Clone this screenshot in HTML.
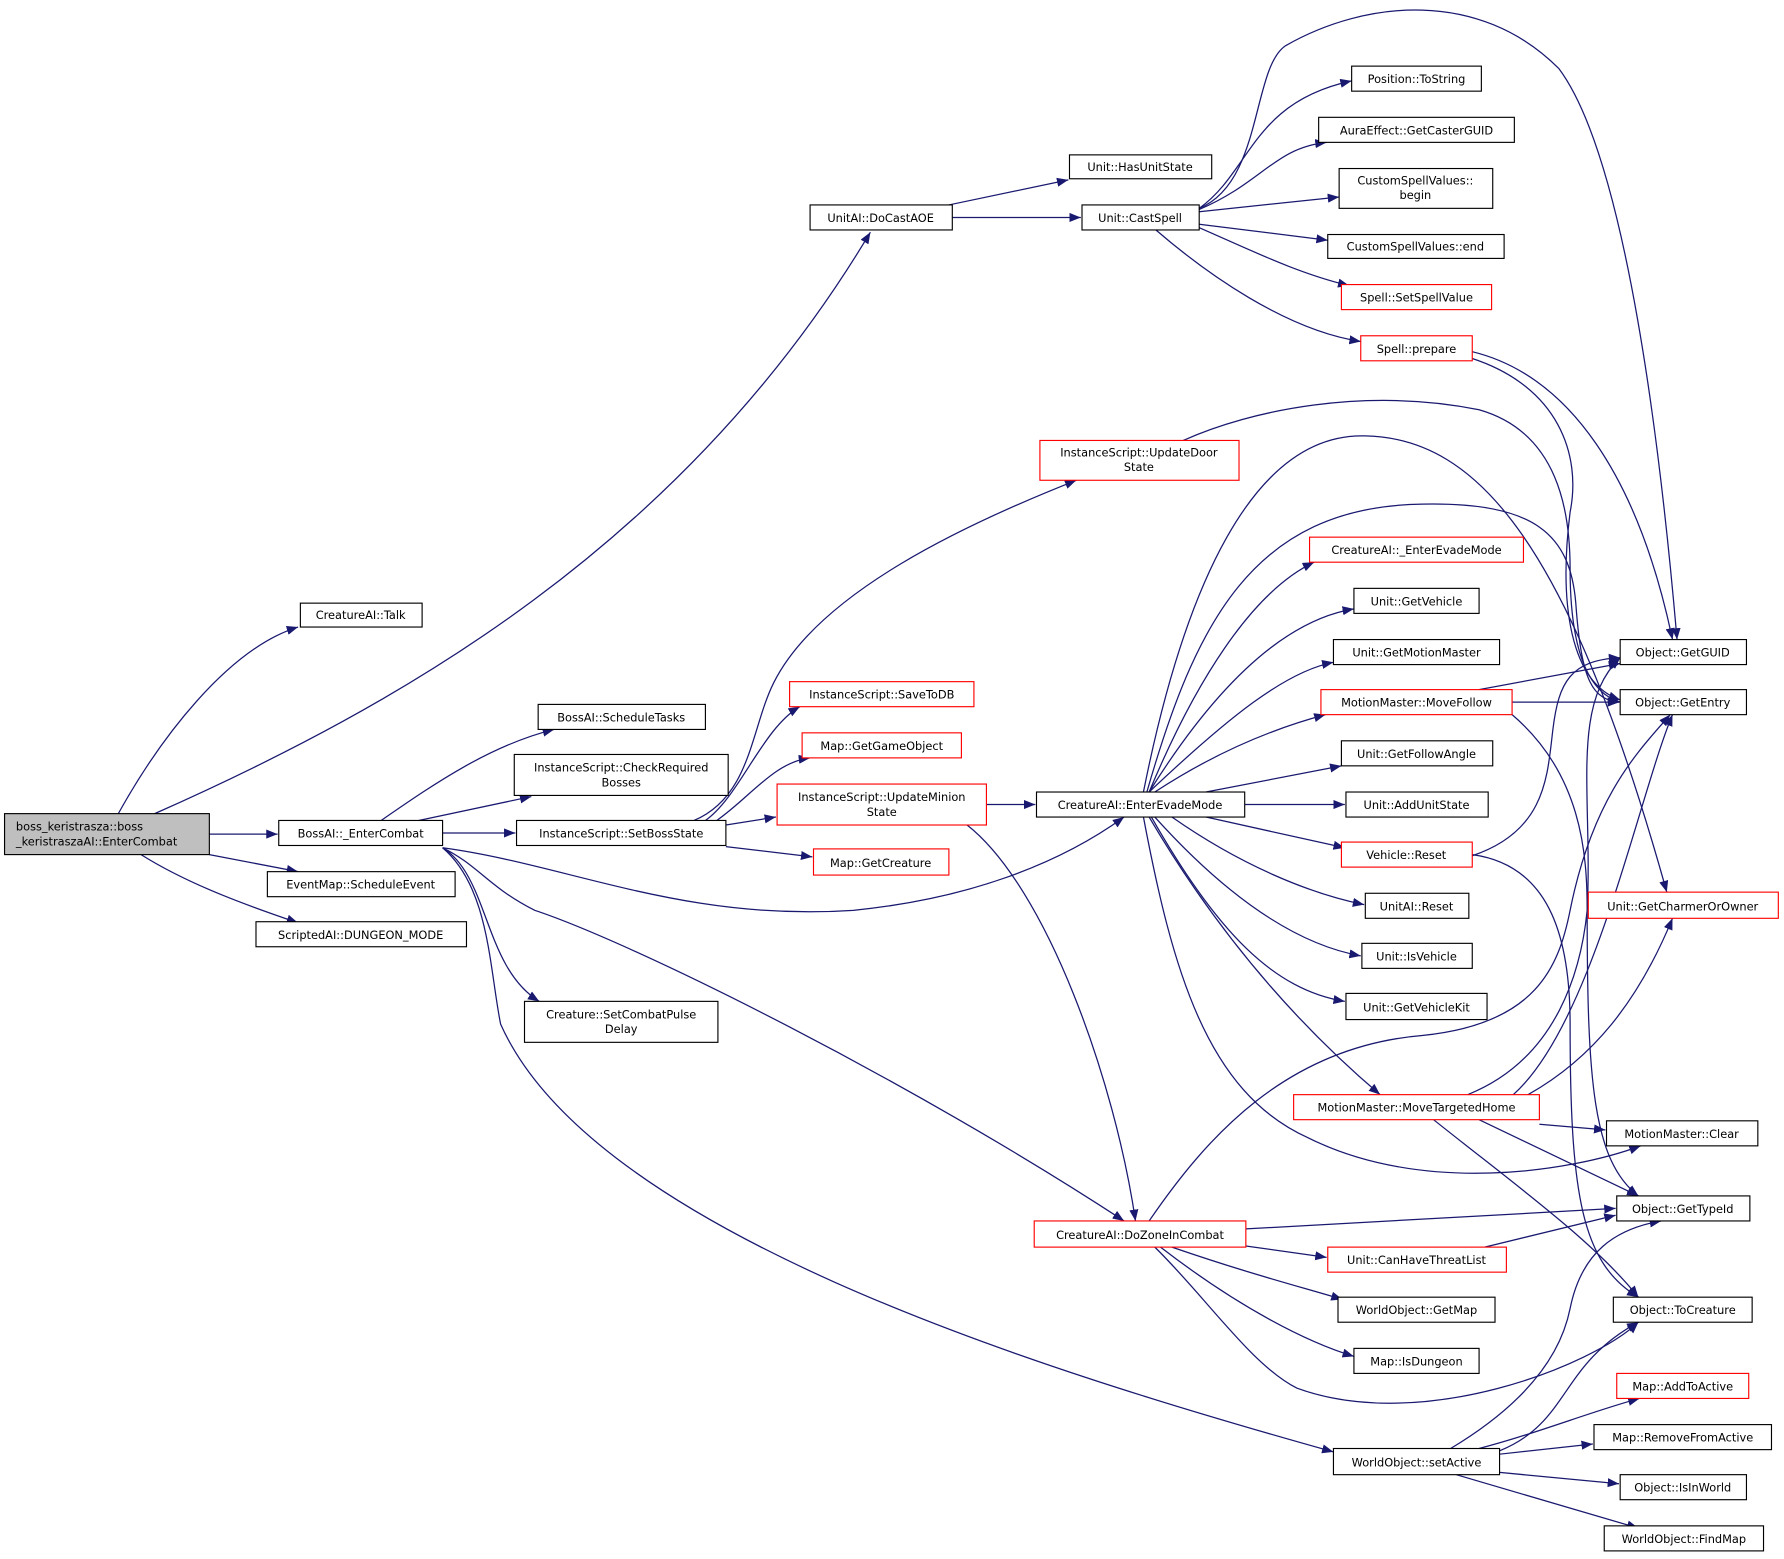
<!DOCTYPE html>
<html><head><meta charset="utf-8"><style>
html,body{margin:0;padding:0;background:#fff;}
svg{display:block;}
text{font-family:"DejaVu Sans","Liberation Sans",sans-serif;font-size:10px;fill:#000;}
.e{fill:none;stroke:#191970;stroke-width:1.1;marker-end:url(#a);}
.n{fill:#fff;stroke:#000;stroke-width:1;}
.r{fill:#fff;stroke:#ff0000;stroke-width:1;}
</style></head><body>
<svg width="1784" height="1559" viewBox="0 0 1568 1370" xmlns="http://www.w3.org/2000/svg">
<defs><marker id="a" markerUnits="userSpaceOnUse" markerWidth="11" markerHeight="8" refX="10" refY="4" orient="auto"><path d="M0,0 L10,4 L0,8 z" fill="#191970"/></marker></defs>
<g>
<path class="e" d="M104,715 C140,650 200,570 262,551"/>
<path class="e" d="M136,715 C350,620 600,480 765,204"/>
<path class="e" d="M184,733 L244,733"/>
<path class="e" d="M184,751 L262,766"/>
<path class="e" d="M124,751 C170,780 230,800 262,811"/>
<path class="e" d="M335,721 C380,690 430,655 487,641"/>
<path class="e" d="M368,721 L467,700"/>
<path class="e" d="M389,732 L453,732"/>
<path class="e" d="M389,745 C500,760 600,810 750,800 C850,790 930,760 988,718"/>
<path class="e" d="M389,745 C420,760 430,780 470,800 C560,830 800,950 988,1073"/>
<path class="e" d="M389,745 C430,770 425,850 474,880"/>
<path class="e" d="M389,745 C430,780 430,850 440,900 C520,1080 900,1200 1172,1276"/>
<path class="e" d="M610,721 C660,700 660,640 680,600 C720,520 850,460 946,422"/>
<path class="e" d="M620,721 C650,700 670,640 703,621"/>
<path class="e" d="M630,721 C660,700 680,670 712,666"/>
<path class="e" d="M638,725 L682,718"/>
<path class="e" d="M638,744 L714,753"/>
<path class="e" d="M867,707 L910,707"/>
<path class="e" d="M850,725 C920,780 980,950 998,1073"/>
<path class="e" d="M834,180 L939,158"/>
<path class="e" d="M837,191 L950,191"/>
<path class="e" d="M1054,183 C1100,150 1100,90 1188,71"/>
<path class="e" d="M1054,184 C1110,160 1120,130 1166,125"/>
<path class="e" d="M1054,186 L1177,173"/>
<path class="e" d="M1054,197 L1167,211"/>
<path class="e" d="M1054,200 C1100,220 1140,240 1186,251"/>
<path class="e" d="M1016,202 C1060,240 1130,290 1196,300"/>
<path class="e" d="M1054,183 C1110,160 1100,60 1130,40 C1200,0 1300,-10 1370,60 C1430,140 1460,400 1474,562"/>
<path class="e" d="M1294,309 C1380,330 1440,420 1470,562"/>
<path class="e" d="M1294,315 C1370,340 1390,400 1380,450 C1370,530 1380,600 1424,615"/>
<path class="e" d="M1040,387 C1100,360 1200,340 1300,360 C1370,380 1380,450 1380,500 C1380,580 1400,610 1424,617"/>
<path class="e" d="M1010,696 C1050,600 1100,520 1155,494"/>
<path class="e" d="M1010,696 C1070,600 1130,545 1190,535"/>
<path class="e" d="M1010,696 C1080,630 1130,590 1172,582"/>
<path class="e" d="M1015,696 C1070,660 1120,640 1165,628"/>
<path class="e" d="M1060,696 L1179,673"/>
<path class="e" d="M1094,707 L1182,707"/>
<path class="e" d="M1060,718 L1182,745"/>
<path class="e" d="M1030,718 C1090,760 1150,785 1199,795"/>
<path class="e" d="M1015,718 C1080,790 1140,830 1196,840"/>
<path class="e" d="M1012,718 C1070,820 1120,870 1182,880"/>
<path class="e" d="M1010,718 C1070,820 1140,900 1213,962"/>
<path class="e" d="M1005,718 C1030,850 1060,960 1150,1000 C1250,1050 1380,1030 1442,1007"/>
<path class="e" d="M1005,696 C1040,520 1100,380 1200,383 C1300,385 1380,480 1465,784"/>
<path class="e" d="M1008,696 C1050,550 1100,445 1250,443 C1350,441 1380,470 1385,530 C1390,600 1400,615 1424,617"/>
<path class="e" d="M1300,606 L1424,583"/>
<path class="e" d="M1329,617 L1423,617"/>
<path class="e" d="M1329,628 C1390,680 1395,750 1395,800 C1395,950 1400,1020 1440,1051"/>
<path class="e" d="M1294,752 C1360,730 1360,680 1365,640 C1370,600 1380,580 1424,578"/>
<path class="e" d="M1294,751 C1360,760 1380,820 1380,900 C1380,1050 1390,1110 1440,1140"/>
<path class="e" d="M1353,988 L1411,993"/>
<path class="e" d="M1300,984 L1440,1051"/>
<path class="e" d="M1260,984 C1330,1040 1400,1090 1440,1140"/>
<path class="e" d="M1290,962 C1370,930 1390,850 1395,800 C1400,700 1380,620 1424,578"/>
<path class="e" d="M1330,962 C1400,900 1440,700 1470,628"/>
<path class="e" d="M1343,962 C1400,930 1440,880 1470,807"/>
<path class="e" d="M1010,1073 C1060,1000 1130,920 1250,910 C1350,900 1370,850 1380,800 C1400,700 1440,660 1468,628"/>
<path class="e" d="M1095,1080 L1420,1062"/>
<path class="e" d="M1095,1095 L1166,1105"/>
<path class="e" d="M1030,1096 C1100,1120 1140,1130 1180,1142"/>
<path class="e" d="M1020,1096 C1090,1150 1150,1180 1190,1192"/>
<path class="e" d="M1015,1096 C1060,1140 1100,1200 1140,1220 C1250,1260 1400,1200 1440,1162"/>
<path class="e" d="M1305,1096 L1420,1068"/>
<path class="e" d="M1275,1273 C1330,1240 1370,1200 1380,1150 C1390,1100 1420,1080 1460,1073"/>
<path class="e" d="M1318,1275 C1380,1250 1370,1200 1440,1162"/>
<path class="e" d="M1300,1273 C1350,1260 1400,1240 1441,1229"/>
<path class="e" d="M1318,1278 L1400,1269"/>
<path class="e" d="M1318,1294 L1423,1304"/>
<path class="e" d="M1280,1296 L1440,1343"/>
</g>
<g>
<rect x="4" y="715" width="180" height="36" fill="#bfbfbf" stroke="#000"/>
<text x="14" y="730">boss_keristrasza::boss</text>
<text x="14" y="743">_keristraszaAI::EnterCombat</text>
</g>
<g text-anchor="middle">
<rect class="n" x="264" y="530" width="107" height="21"/><text x="317" y="544">CreatureAI::Talk</text>
<rect class="n" x="712" y="180" width="125" height="22"/><text x="774" y="195">UnitAI::DoCastAOE</text>
<rect class="n" x="940" y="136" width="125" height="21"/><text x="1002" y="150">Unit::HasUnitState</text>
<rect class="n" x="951" y="180" width="103" height="22"/><text x="1002" y="195">Unit::CastSpell</text>
<rect class="n" x="1188" y="58" width="114" height="22"/><text x="1245" y="73">Position::ToString</text>
<rect class="n" x="1159" y="103" width="172" height="22"/><text x="1245" y="118">AuraEffect::GetCasterGUID</text>
<rect class="n" x="1177" y="148" width="135" height="35"/><text x="1244" y="162">CustomSpellValues::</text><text x="1244" y="175">begin</text>
<rect class="n" x="1167" y="206" width="155" height="21"/><text x="1244" y="220">CustomSpellValues::end</text>
<rect class="r" x="1179" y="250" width="132" height="22"/><text x="1245" y="265">Spell::SetSpellValue</text>
<rect class="r" x="1196" y="295" width="98" height="22"/><text x="1245" y="310">Spell::prepare</text>
<rect class="r" x="914" y="387" width="175" height="35"/><text x="1001" y="401">InstanceScript::UpdateDoor</text><text x="1001" y="414">State</text>
<rect class="n" x="473" y="619" width="147" height="22"/><text x="546" y="634">BossAI::ScheduleTasks</text>
<rect class="n" x="452" y="663" width="188" height="36"/><text x="546" y="678">InstanceScript::CheckRequired</text><text x="546" y="691">Bosses</text>
<rect class="n" x="245" y="721" width="144" height="22"/><text x="317" y="736">BossAI::_EnterCombat</text>
<rect class="n" x="454" y="721" width="184" height="22"/><text x="546" y="736">InstanceScript::SetBossState</text>
<rect class="n" x="235" y="766" width="165" height="22"/><text x="317" y="781">EventMap::ScheduleEvent</text>
<rect class="n" x="225" y="810" width="185" height="22"/><text x="317" y="825">ScriptedAI::DUNGEON_MODE</text>
<rect class="r" x="694" y="599" width="162" height="22"/><text x="775" y="614">InstanceScript::SaveToDB</text>
<rect class="r" x="705" y="644" width="140" height="22"/><text x="775" y="659">Map::GetGameObject</text>
<rect class="r" x="683" y="689" width="184" height="36"/><text x="775" y="704">InstanceScript::UpdateMinion</text><text x="775" y="717">State</text>
<rect class="r" x="715" y="746" width="119" height="23"/><text x="774" y="762">Map::GetCreature</text>
<rect class="n" x="461" y="880" width="170" height="36"/><text x="546" y="895">Creature::SetCombatPulse</text><text x="546" y="908">Delay</text>
<rect class="n" x="911" y="696" width="183" height="22"/><text x="1002" y="711">CreatureAI::EnterEvadeMode</text>
<rect class="r" x="1151" y="472" width="188" height="22"/><text x="1245" y="487">CreatureAI::_EnterEvadeMode</text>
<rect class="n" x="1190" y="517" width="110" height="22"/><text x="1245" y="532">Unit::GetVehicle</text>
<rect class="n" x="1172" y="562" width="146" height="22"/><text x="1245" y="577">Unit::GetMotionMaster</text>
<rect class="r" x="1161" y="606" width="168" height="22"/><text x="1245" y="621">MotionMaster::MoveFollow</text>
<rect class="n" x="1179" y="651" width="133" height="22"/><text x="1245" y="666">Unit::GetFollowAngle</text>
<rect class="n" x="1183" y="696" width="125" height="22"/><text x="1245" y="711">Unit::AddUnitState</text>
<rect class="r" x="1179" y="740" width="115" height="22"/><text x="1236" y="755">Vehicle::Reset</text>
<rect class="n" x="1200" y="785" width="91" height="22"/><text x="1245" y="800">UnitAI::Reset</text>
<rect class="n" x="1197" y="829" width="97" height="22"/><text x="1245" y="844">Unit::IsVehicle</text>
<rect class="n" x="1183" y="873" width="124" height="23"/><text x="1245" y="889">Unit::GetVehicleKit</text>
<rect class="r" x="1137" y="962" width="216" height="22"/><text x="1245" y="977">MotionMaster::MoveTargetedHome</text>
<rect class="n" x="1412" y="985" width="133" height="22"/><text x="1478" y="1000">MotionMaster::Clear</text>
<rect class="r" x="909" y="1073" width="186" height="23"/><text x="1002" y="1089">CreatureAI::DoZoneInCombat</text>
<rect class="r" x="1167" y="1096" width="157" height="22"/><text x="1245" y="1111">Unit::CanHaveThreatList</text>
<rect class="n" x="1176" y="1140" width="138" height="22"/><text x="1245" y="1155">WorldObject::GetMap</text>
<rect class="n" x="1190" y="1185" width="110" height="22"/><text x="1245" y="1200">Map::IsDungeon</text>
<rect class="n" x="1172" y="1273" width="146" height="23"/><text x="1245" y="1289">WorldObject::setActive</text>
<rect class="n" x="1424" y="562" width="111" height="22"/><text x="1479" y="577">Object::GetGUID</text>
<rect class="n" x="1424" y="606" width="111" height="22"/><text x="1479" y="621">Object::GetEntry</text>
<rect class="r" x="1396" y="784" width="167" height="23"/><text x="1479" y="800">Unit::GetCharmerOrOwner</text>
<rect class="n" x="1421" y="1051" width="117" height="22"/><text x="1479" y="1066">Object::GetTypeId</text>
<rect class="n" x="1418" y="1140" width="122" height="22"/><text x="1479" y="1155">Object::ToCreature</text>
<rect class="r" x="1421" y="1207" width="116" height="22"/><text x="1479" y="1222">Map::AddToActive</text>
<rect class="n" x="1401" y="1252" width="156" height="22"/><text x="1479" y="1267">Map::RemoveFromActive</text>
<rect class="n" x="1424" y="1296" width="111" height="22"/><text x="1479" y="1311">Object::IsInWorld</text>
<rect class="n" x="1410" y="1341" width="140" height="22"/><text x="1480" y="1356">WorldObject::FindMap</text>
</g>
</svg>
</body></html>
